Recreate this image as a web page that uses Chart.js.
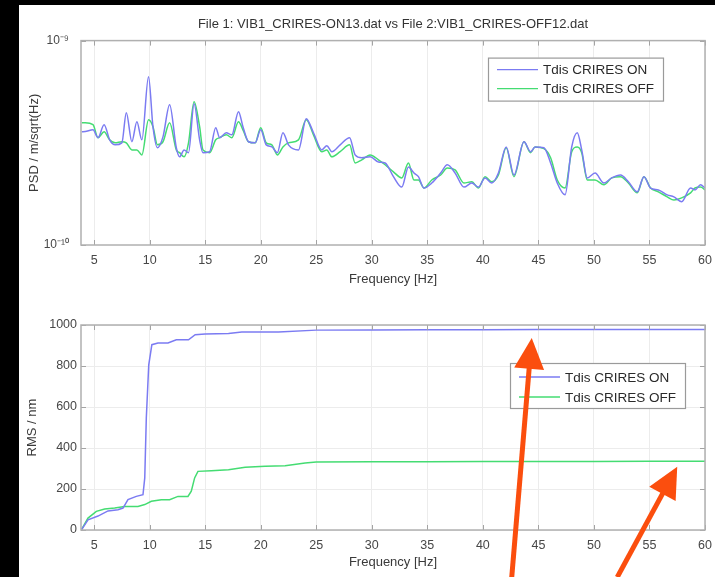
<!DOCTYPE html>
<html>
<head>
<meta charset="utf-8">
<title>CRIRES PSD / RMS</title>
<script src="https://cdn.jsdelivr.net/npm/chart.js@4.4.1/dist/chart.umd.min.js"></script>
<style>
  html, body { margin: 0; padding: 0; background: #000; width: 715px; height: 577px; overflow: hidden; }
  #figure { position: absolute; left: 19px; top: 5px; width: 696px; height: 572px; background: #fff; }
  #psdChart { position: absolute; left: 0; top: 0; }
  #rmsChart { position: absolute; left: 0; top: 295px; }
</style>
</head>
<body>
<div id="figure">
  <canvas id="psdChart" width="696" height="295"></canvas>
  <canvas id="rmsChart" width="696" height="277"></canvas>
</div>
<script>
// Labels
const figTitle = 'File 1: VIB1_CRIRES-ON13.dat vs File 2:VIB1_CRIRES-OFF12.dat';
const seriesLabels = ['Tdis CRIRES ON', 'Tdis CRIRES OFF'];
const freqTicks = [5, 10, 15, 20, 25, 30, 35, 40, 45, 50, 55, 60];
const psdTicks = [1e-10, 1e-9];
const rmsTicks = [0, 200, 400, 600, 800, 1000];

// Top plot: PSD (m/sqrt(Hz))
const psdFreq = [
  3.9, 4.2, 4.9, 5.35, 5.9, 6.4, 6.9, 7.5, 7.9, 8.4,
  8.85, 9.3, 9.9, 10.3, 10.7, 11.2, 11.8, 12.4, 12.7, 13.1,
  13.5, 14.0, 14.5, 14.8, 15.4, 15.95, 16.3, 16.9, 17.4, 18.0,
  18.4, 18.9, 19.5, 20.0, 20.5, 21.0, 21.5, 22.0, 22.5, 23.4,
  24.1, 24.75, 25.5, 25.95, 26.4, 27.15, 28.0, 28.5, 29.1, 29.85,
  30.6, 31.2, 31.95, 32.7, 33.3, 33.8, 34.2, 34.7, 35.4, 36.2,
  36.8, 37.5, 38.3, 39.0, 39.6, 40.2, 40.8, 41.4, 42.1, 42.8,
  43.7, 44.3, 44.7, 45.5, 46.1, 46.7, 47.4, 48.0, 48.5, 48.9,
  49.4, 50.1, 50.9, 51.6, 52.4, 53.1, 53.9, 54.5, 55.1, 55.8,
  56.6, 57.2, 57.9, 58.7, 59.1, 59.6, 60.0
];
const psdOn = [
  3.58e-10, 3.59e-10, 3.66e-10, 3.35e-10, 3.88e-10, 3.27e-10, 3.09e-10, 3.16e-10, 4.44e-10, 3.20e-10,
  4.01e-10, 3.27e-10, 6.66e-10, 3.79e-10, 2.99e-10, 3.38e-10, 4.86e-10, 2.99e-10, 2.70e-10, 2.92e-10,
  2.83e-10, 4.91e-10, 3.27e-10, 2.83e-10, 2.86e-10, 3.75e-10, 3.35e-10, 3.54e-10, 3.46e-10, 4.49e-10,
  3.79e-10, 3.20e-10, 3.16e-10, 3.66e-10, 3.09e-10, 3.02e-10, 2.83e-10, 3.54e-10, 3.09e-10, 2.92e-10,
  4.15e-10, 3.54e-10, 2.92e-10, 3.06e-10, 2.86e-10, 3.09e-10, 3.35e-10, 2.76e-10, 2.67e-10, 2.70e-10,
  2.55e-10, 2.52e-10, 2.16e-10, 1.92e-10, 2.41e-10, 2.25e-10, 2.16e-10, 1.90e-10, 2.01e-10, 2.25e-10,
  2.47e-10, 2.25e-10, 1.92e-10, 2.01e-10, 1.92e-10, 2.13e-10, 2.01e-10, 2.25e-10, 3.02e-10, 2.20e-10,
  3.20e-10, 2.86e-10, 3.02e-10, 2.99e-10, 2.52e-10, 2.01e-10, 1.76e-10, 3.02e-10, 3.54e-10, 2.92e-10,
  2.13e-10, 2.25e-10, 2.01e-10, 2.13e-10, 2.20e-10, 2.04e-10, 1.82e-10, 2.16e-10, 1.90e-10, 1.86e-10,
  1.76e-10, 1.72e-10, 1.63e-10, 1.90e-10, 1.86e-10, 1.97e-10, 1.90e-10
];
const psdOff = [
  3.96e-10, 3.96e-10, 3.88e-10, 3.35e-10, 3.58e-10, 3.27e-10, 3.16e-10, 3.20e-10, 3.16e-10, 2.92e-10,
  2.92e-10, 2.76e-10, 4.10e-10, 3.79e-10, 3.09e-10, 3.20e-10, 3.96e-10, 2.92e-10, 2.83e-10, 2.70e-10,
  3.16e-10, 5.02e-10, 3.79e-10, 2.92e-10, 2.83e-10, 3.27e-10, 3.35e-10, 3.46e-10, 3.35e-10, 4.01e-10,
  3.66e-10, 3.20e-10, 3.16e-10, 3.75e-10, 3.16e-10, 3.09e-10, 2.76e-10, 3.02e-10, 3.16e-10, 3.27e-10,
  4.10e-10, 3.46e-10, 2.86e-10, 2.92e-10, 2.70e-10, 2.86e-10, 3.09e-10, 2.52e-10, 2.61e-10, 2.76e-10,
  2.61e-10, 2.47e-10, 2.28e-10, 2.13e-10, 2.52e-10, 2.08e-10, 2.08e-10, 1.90e-10, 2.08e-10, 2.20e-10,
  2.38e-10, 2.33e-10, 2.01e-10, 2.04e-10, 1.90e-10, 2.16e-10, 2.04e-10, 2.20e-10, 2.99e-10, 2.16e-10,
  3.20e-10, 2.83e-10, 3.02e-10, 2.96e-10, 2.67e-10, 2.08e-10, 1.90e-10, 2.86e-10, 3.02e-10, 2.83e-10,
  2.08e-10, 2.08e-10, 1.97e-10, 2.13e-10, 2.16e-10, 2.01e-10, 1.80e-10, 2.16e-10, 1.90e-10, 1.82e-10,
  1.72e-10, 1.66e-10, 1.70e-10, 1.80e-10, 1.90e-10, 1.92e-10, 1.86e-10
];

// Bottom plot: cumulative RMS (nm)
const rmsFreqOn = [3.85, 4.45, 5.35, 6.25, 7.15, 7.6, 8.05, 8.8, 9.4, 9.56, 9.7, 9.92, 10.2, 10.75, 11.65, 12.4, 13.5, 14.1, 15.0, 17.1, 18.3, 21.6, 25.0, 30, 35, 40, 45, 50, 55, 60];
const rmsOn = [0, 50, 68, 93, 99, 107, 148, 164, 172, 254, 546, 806, 904, 912, 912, 928, 928, 953, 956, 958, 966, 966, 975, 976, 977, 977, 978, 978, 978, 978];
const rmsFreqOff = [3.85, 4.45, 5.2, 5.95, 6.85, 7.75, 8.95, 9.56, 10.15, 11.05, 11.8, 12.55, 13.45, 13.75, 14.05, 14.35, 15.55, 17.1, 18.6, 20.4, 22.2, 24.0, 25.0, 30, 35, 40, 45, 50, 55, 60];
const rmsOff = [0, 58, 91, 102, 107, 115, 115, 124, 140, 148, 148, 164, 164, 189, 254, 286, 289, 294, 306, 311, 314, 327, 332, 333, 333, 334, 334, 334, 335, 335];

// Orange call-out arrows, in bottom-plot data coordinates (Hz, nm)
const arrowNotes = [
  { from: [42.6, -230], to: [44.4, 937] },
  { from: [52.1, -230], to: [57.5, 309] }
];

const FONT = "'Liberation Sans', Arial, Helvetica, sans-serif";
const BLUE = '#7b7bf2';
const GREEN = '#44dc72';

const toPoints = (xs, ys) => xs.map((x, i) => ({ x: x, y: ys[i] }));
const supMap = { '-': '\u207B', '0': '\u2070', '1': '\u00B9', '2': '\u00B2', '3': '\u00B3', '4': '\u2074', '5': '\u2075', '6': '\u2076', '7': '\u2077', '8': '\u2078', '9': '\u2079' };
const powLabel = v => '10' + String(Math.round(Math.log10(v))).split('').map(c => supMap[c]).join('');

// Axes box with inward tick marks (MATLAB style)
const framePlugin = {
  id: 'frame',
  afterDatasetsDraw(chart) {
    const { ctx, chartArea: a, scales } = chart;
    ctx.save();
    ctx.strokeStyle = '#a3a3a3';
    ctx.lineWidth = 1;
    ctx.beginPath();
    scales.x.ticks.forEach(t => {
      const px = Math.round(scales.x.getPixelForValue(t.value)) + 0.5;
      ctx.moveTo(px, a.bottom); ctx.lineTo(px, a.bottom - 5);
      ctx.moveTo(px, a.top); ctx.lineTo(px, a.top + 5);
    });
    scales.y.ticks.forEach(t => {
      const py = Math.round(scales.y.getPixelForValue(t.value)) + 0.5;
      ctx.moveTo(a.left, py); ctx.lineTo(a.left + 5, py);
      ctx.moveTo(a.right, py); ctx.lineTo(a.right - 5, py);
    });
    ctx.stroke();
    ctx.lineWidth = 1.5;
    ctx.strokeStyle = '#b0b0b0';
    ctx.strokeRect(a.left, a.top, a.width, a.height);
    ctx.restore();
  }
};

// Boxed legend inside the axes
const boxLegend = {
  id: 'boxLegend',
  afterDatasetsDraw(chart, args, o) {
    const { ctx, chartArea: a } = chart;
    const x = a.right - o.right - o.width;
    const y = a.top + o.top;
    ctx.save();
    ctx.fillStyle = '#fff';
    ctx.fillRect(x, y, o.width, o.height);
    ctx.strokeStyle = '#9a9a9a';
    ctx.lineWidth = 1.2;
    ctx.strokeRect(x + 0.5, y + 0.5, o.width, o.height);
    ctx.font = '13.5px ' + FONT;
    ctx.textBaseline = 'middle';
    chart.data.datasets.forEach((ds, i) => {
      const ly = y + o.firstRow + i * o.rowGap;
      ctx.strokeStyle = ds.borderColor;
      ctx.lineWidth = 1.3;
      ctx.beginPath();
      ctx.moveTo(x + 9, ly);
      ctx.lineTo(x + 50, ly);
      ctx.stroke();
      ctx.fillStyle = '#2a2a2a';
      ctx.fillText(ds.label, x + 55, ly + 1);
    });
    ctx.restore();
  }
};

// Arrows drawn over the bottom chart
const arrowPlugin = {
  id: 'arrows',
  afterDraw(chart) {
    const { ctx, scales } = chart;
    ctx.save();
    ctx.fillStyle = '#fb4e0e';
    ctx.strokeStyle = '#fb4e0e';
    arrowNotes.forEach(n => {
      const x0 = scales.x.getPixelForValue(n.from[0]);
      const y0 = scales.y.getPixelForValue(n.from[1]);
      const x1 = scales.x.getPixelForValue(n.to[0]);
      const y1 = scales.y.getPixelForValue(n.to[1]);
      const len = Math.hypot(x1 - x0, y1 - y0);
      const ux = (x1 - x0) / len, uy = (y1 - y0) / len;
      const headLen = 31, headW = 30;
      const bx = x1 - ux * headLen, by = y1 - uy * headLen;
      ctx.lineWidth = 5;
      ctx.beginPath();
      ctx.moveTo(x0, y0);
      ctx.lineTo(bx + ux * 2, by + uy * 2);
      ctx.stroke();
      ctx.beginPath();
      ctx.moveTo(x1, y1);
      ctx.lineTo(bx - uy * headW / 2, by + ux * headW / 2);
      ctx.lineTo(bx + uy * headW / 2, by - ux * headW / 2);
      ctx.closePath();
      ctx.fill();
    });
    ctx.restore();
  }
};

function xScale(height, titlePad) {
  return {
    type: 'linear',
    min: 3.82,
    max: 60,
    afterBuildTicks: s => { s.ticks = freqTicks.map(v => ({ value: v })); },
    // fixed height, and no extra room for the last label's overhang
    afterFit: s => { s.height = height; s.paddingLeft = 0; s.paddingRight = 0; },
    grid: { color: '#ececec', drawTicks: false },
    border: { display: false },
    ticks: { padding: 8, color: '#474747', font: { family: FONT, size: 12.5 }, maxRotation: 0 },
    title: { display: true, text: 'Frequency [Hz]', color: '#3a3a3a', font: { family: FONT, size: 13 }, padding: { top: 0, bottom: titlePad } }
  };
}

function yFit(s) {
  s.width = 62;
  s.paddingTop = 0;
  s.paddingBottom = 0;
}

function lineSet(label, points, color, smooth) {
  return {
    label: label,
    data: points,
    borderColor: color,
    borderWidth: 1.5,
    pointRadius: 0,
    fill: false,
    cubicInterpolationMode: smooth ? 'monotone' : 'default',
    tension: 0
  };
}

// PSD chart
new Chart(document.getElementById('psdChart'), {
  type: 'line',
  data: {
    datasets: [
      lineSet(seriesLabels[0], toPoints(psdFreq, psdOn), BLUE, true),
      lineSet(seriesLabels[1], toPoints(psdFreq, psdOff), GREEN, true)
    ]
  },
  options: {
    responsive: false,
    animation: false,
    layout: { padding: { left: 0, right: 10, top: 0, bottom: 0 } },
    plugins: {
      legend: { display: false },
      tooltip: { enabled: false },
      title: {
        display: true, text: figTitle, fullSize: false, color: '#333',
        font: { family: FONT, size: 13, weight: 'normal' },
        padding: { top: 12, bottom: 8 }
      },
      boxLegend: { right: 42, top: 17, width: 175, height: 43, firstRow: 12, rowGap: 19 }
    },
    scales: {
      x: xScale(55, 13),
      y: {
        type: 'logarithmic',
        min: psdTicks[0],
        max: psdTicks[1],
        afterBuildTicks: s => { s.ticks = psdTicks.map(v => ({ value: v })); },
        afterFit: yFit,
        grid: { display: false },
        border: { display: false },
        ticks: { padding: 4, color: '#474747', font: { family: FONT, size: 12 }, callback: v => powLabel(v) },
        title: { display: true, text: 'PSD / m/sqrt(Hz)', color: '#3a3a3a', font: { family: FONT, size: 13 }, padding: { top: 8 } }
      }
    }
  },
  plugins: [framePlugin, boxLegend]
});

// RMS chart
new Chart(document.getElementById('rmsChart'), {
  type: 'line',
  data: {
    datasets: [
      lineSet(seriesLabels[0], toPoints(rmsFreqOn, rmsOn), BLUE, false),
      lineSet(seriesLabels[1], toPoints(rmsFreqOff, rmsOff), GREEN, false)
    ]
  },
  options: {
    responsive: false,
    animation: false,
    layout: { padding: { left: 0, right: 10, top: 25, bottom: 0 } },
    plugins: {
      legend: { display: false },
      tooltip: { enabled: false },
      boxLegend: { right: 20, top: 38, width: 175, height: 45, firstRow: 14, rowGap: 20 }
    },
    scales: {
      x: xScale(47, 7),
      y: {
        type: 'linear',
        min: rmsTicks[0],
        max: rmsTicks[rmsTicks.length - 1],
        afterBuildTicks: s => { s.ticks = rmsTicks.map(v => ({ value: v })); },
        afterFit: yFit,
        grid: { color: '#ececec', drawTicks: false },
        border: { display: false },
        ticks: { padding: 4, color: '#474747', font: { family: FONT, size: 12.5 }, callback: v => String(v) },
        title: { display: true, text: 'RMS / nm', color: '#3a3a3a', font: { family: FONT, size: 13 }, padding: { top: 6 } }
      }
    }
  },
  plugins: [framePlugin, boxLegend, arrowPlugin]
});
</script>
</body>
</html>
